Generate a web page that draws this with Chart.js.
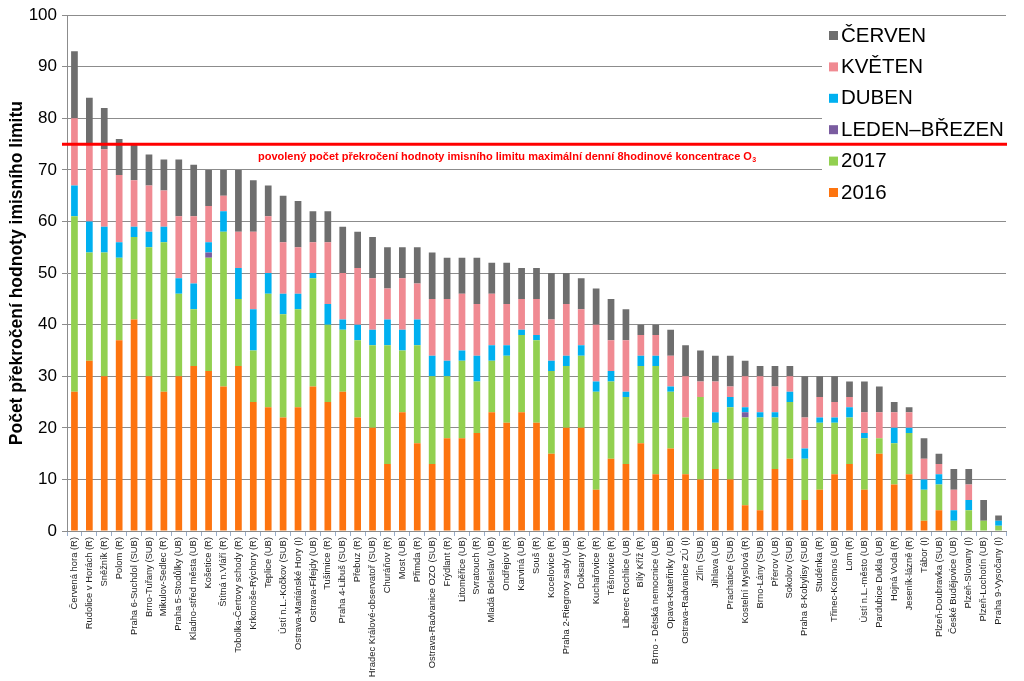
<!DOCTYPE html>
<html>
<head>
<meta charset="utf-8">
<script src="https://cdn.jsdelivr.net/npm/chart.js@4.4.1/dist/chart.umd.min.js"></script>
<style>
    html, body { margin: 0; padding: 0; background: #fff; }
    #chart { display: block; }
</style>
</head>
<body>
<canvas id="chart" width="1024" height="681"></canvas>
<script>
const stations = [
    'Červená hora (R)', 'Rudolice v Horách (R)', 'Sněžník (R)', 'Polom (R)', 'Praha 6-Suchdol (SUB)',
    'Brno-Tuřany (SUB)', 'Mikulov-Sedlec (R)', 'Praha 5-Stodůlky (UB)', 'Kladno-střed města (UB)', 'Košetice (R)',
    'Štítná n.Vláří (R)', 'Tobolka-Čertovy schody (R)', 'Krkonoše-Rýchory (R)', 'Teplice (UB)', 'Ústí n.L.-Kočkov (SUB)',
    'Ostrava-Mariánské Hory (I)', 'Ostrava-Fifejdy (UB)', 'Tušimice (R)', 'Praha 4-Libuš (SUB)', 'Přebuz (R)',
    'Hradec Králové-observatoř (SUB)', 'Churáňov (R)', 'Most (UB)', 'Přimda (R)', 'Ostrava-Radvanice OZO (SUB)',
    'Frýdlant (R)', 'Litoměřice (UB)', 'Svratouch (R)', 'Mladá Boleslav (UB)', 'Ondřejov (R)',
    'Karviná (UB)', 'Souš (R)', 'Kocelovice (R)', 'Praha 2-Riegrovy sady (UB)', 'Doksany (R)',
    'Kuchařovice (R)', 'Těšnovice (R)', 'Liberec Rochlice (UB)', 'Bílý Kříž (R)', 'Brno - Dětská nemocnice (UB)',
    'Opava-Kateřinky (UB)', 'Ostrava-Radvanice ZÚ (I)', 'Zlín (SUB)', 'Jihlava (UB)', 'Prachatice (SUB)',
    'Kostelní Myslová (R)', 'Brno-Lány (SUB)', 'Přerov (UB)', 'Sokolov (SUB)', 'Praha 8-Kobylisy (SUB)',
    'Studénka (R)', 'Třinec-Kosmos (UB)', 'Lom (R)', 'Ústí n.L.-město (UB)', 'Pardubice Dukla (UB)',
    'Hojná Voda (R)', 'Jeseník-lázně (R)', 'Tábor (I)', 'Plzeň-Doubravka (SUB)', 'České Budějovice (UB)',
    'Plzeň-Slovany (I)', 'Plzeň-Lochotín (UB)', 'Praha 9-Vysočany (I)'
]

const y2016 = [27, 33, 30, 37, 41, 30, 27, 30, 32, 31, 28, 32, 25, 24, 22, 24, 28, 25, 27, 22, 20, 13, 23, 17, 13,
    18, 18, 19, 23, 21, 23, 21, 15, 20, 20, 8, 14, 13, 17, 11, 16, 11, 10, 12, 10, 5, 4, 12, 14, 6,
    8, 11, 13, 8, 15, 9, 11, 2, 4, 0, 0, 0, 0]
const y2017 = [34, 21, 24, 16, 16, 25, 29, 16, 11, 22, 30, 13, 10, 22, 20, 19, 21, 15, 12, 15, 16, 23, 12, 19, 17,
    12, 15, 10, 10, 13, 15, 16, 16, 12, 14, 19, 15, 13, 15, 21, 11, 11, 16, 9, 14, 17, 18, 10, 11, 8,
    13, 10, 9, 10, 3, 8, 8, 6, 5, 2, 4, 2, 1]
const ledenBrezen = [0, 0, 0, 0, 0, 0, 0, 0, 0, 1, 0, 0, 0, 0, 0, 0, 0, 0, 0, 0, 0, 0, 0, 0, 0,
    0, 0, 0, 0, 0, 0, 0, 0, 0, 0, 0, 0, 0, 0, 0, 0, 0, 0, 0, 0, 1, 0, 0, 0, 0,
    0, 0, 0, 0, 0, 0, 0, 0, 0, 0, 0, 0, 0]
const duben = [6, 6, 5, 3, 2, 3, 3, 3, 5, 2, 4, 6, 8, 4, 4, 3, 1, 4, 2, 3, 3, 5, 4, 5, 4,
    3, 2, 5, 3, 2, 1, 1, 2, 2, 2, 2, 2, 1, 2, 2, 1, 0, 0, 2, 2, 1, 1, 1, 2, 2,
    1, 1, 2, 1, 0, 3, 1, 2, 2, 2, 2, 0, 1]
const kveten = [13, 15, 15, 13, 9, 9, 7, 12, 13, 7, 3, 7, 15, 11, 10, 9, 6, 12, 9, 11, 10, 6, 10, 7, 11,
    12, 11, 10, 10, 8, 6, 7, 8, 10, 7, 11, 6, 10, 4, 4, 6, 8, 3, 6, 2, 6, 7, 5, 3, 6,
    4, 3, 2, 4, 5, 3, 3, 4, 2, 4, 3, 0, 0]
const cerven = [13, 9, 8, 7, 7, 6, 6, 11, 10, 7, 5, 12, 10, 6, 9, 9, 6, 6, 9, 7, 8, 8, 6, 7, 9,
    8, 7, 9, 6, 8, 6, 6, 9, 6, 6, 7, 8, 6, 2, 2, 5, 6, 6, 5, 6, 3, 2, 4, 2, 8,
    4, 5, 3, 6, 5, 2, 1, 4, 2, 4, 3, 4, 1]

const yMin = 0
const yMax = 100
const yStep = 10
const limit = 75
const limitText = 'povolený počet překročení hodnoty imisního limitu maximální denní 8hodinové koncentrace O'

const fontFamily = 'Arial, "Liberation Sans", sans-serif'

// legenda vpravo nahore, na bilem podkladu
const boxLegend = {
    id: 'boxLegend',
    beforeDatasetsDraw(chart) {
        const ctx = chart.ctx
        ctx.save()
        ctx.fillStyle = '#fff'
        ctx.fillRect(822, 19, 190, 192)
        ctx.font = '20.5px ' + fontFamily
        ctx.textBaseline = 'middle'
        chart.data.datasets.slice().reverse().forEach((ds, i) => {
            const y = 35 + i * 31.4
            ctx.fillStyle = ds.backgroundColor
            ctx.fillRect(829, y - 4, 9, 9)
            ctx.fillStyle = '#000'
            ctx.fillText(ds.label, 841, y + 1)
        })
        ctx.restore()
    }
}

// cervena cara limitu + popisek
const limitLine = {
    id: 'limitLine',
    afterDatasetsDraw(chart) {
        const { ctx, chartArea, scales } = chart
        const y = scales.y.getPixelForValue(limit)
        ctx.save()
        ctx.strokeStyle = '#ff0000'
        ctx.lineWidth = 3
        ctx.beginPath()
        ctx.moveTo(chartArea.left - 5, y)
        ctx.lineTo(chartArea.right + 1, y)
        ctx.stroke()

        ctx.fillStyle = '#ff0000'
        ctx.font = 'bold 11px ' + fontFamily
        ctx.textBaseline = 'alphabetic'
        const x0 = chartArea.left + 191
        const yText = y + 16
        ctx.fillText(limitText, x0, yText)
        const w = ctx.measureText(limitText).width
        ctx.font = 'bold 7px ' + fontFamily
        ctx.fillText('3', x0 + w + 0.5, yText + 2)
        ctx.restore()
    }
}

function makeSet(label, data, color) {
    return {
        label: label,
        data: data,
        backgroundColor: color,
        borderWidth: 0,
        barPercentage: 0.45,
        categoryPercentage: 1.0
    }
}

const ctx = document.getElementById('chart').getContext('2d')

new Chart(ctx, {
    type: 'bar',
    data: {
        labels: stations,
        datasets: [
            makeSet('2016', y2016, '#fd740f'),
            makeSet('2017', y2017, '#92d050'),
            makeSet('LEDEN–BŘEZEN', ledenBrezen, '#7a5ca0'),
            makeSet('DUBEN', duben, '#00b0f0'),
            makeSet('KVĚTEN', kveten, '#f08a92'),
            makeSet('ČERVEN', cerven, '#6e6e6e')
        ]
    },
    options: {
        responsive: false,
        animation: false,
        devicePixelRatio: 1,
        layout: {
            padding: { top: 15, right: 18, left: 0, bottom: 0 }
        },
        plugins: {
            legend: { display: false },
            tooltip: { enabled: false }
        },
        scales: {
            x: {
                stacked: true,
                grid: {
                    display: true,
                    drawOnChartArea: false,
                    drawTicks: true,
                    tickLength: 5,
                    offset: true,
                    color: '#9aaecb'
                },
                border: { color: '#8c8c8c' },
                ticks: {
                    autoSkip: false,
                    maxRotation: 90,
                    minRotation: 90,
                    padding: 1,
                    color: '#222',
                    font: { size: 9.4, family: fontFamily }
                },
                afterFit: function (scale) {
                    scale.height = 150
                }
            },
            y: {
                stacked: true,
                min: yMin,
                max: yMax,
                ticks: {
                    stepSize: yStep,
                    padding: 5,
                    color: '#000',
                    font: { size: 17, family: fontFamily }
                },
                grid: {
                    color: '#8c8c8c',
                    tickLength: 5
                },
                border: { color: '#8c8c8c' },
                title: {
                    display: true,
                    text: 'Počet překročení hodnoty imisního limitu',
                    color: '#000',
                    padding: { top: 7, bottom: 0 },
                    font: { size: 17.5, weight: 'bold', family: fontFamily }
                },
                afterFit: function (scale) {
                    scale.width = 67
                }
            }
        }
    },
    plugins: [boxLegend, limitLine]
});
</script>
</body>
</html>
